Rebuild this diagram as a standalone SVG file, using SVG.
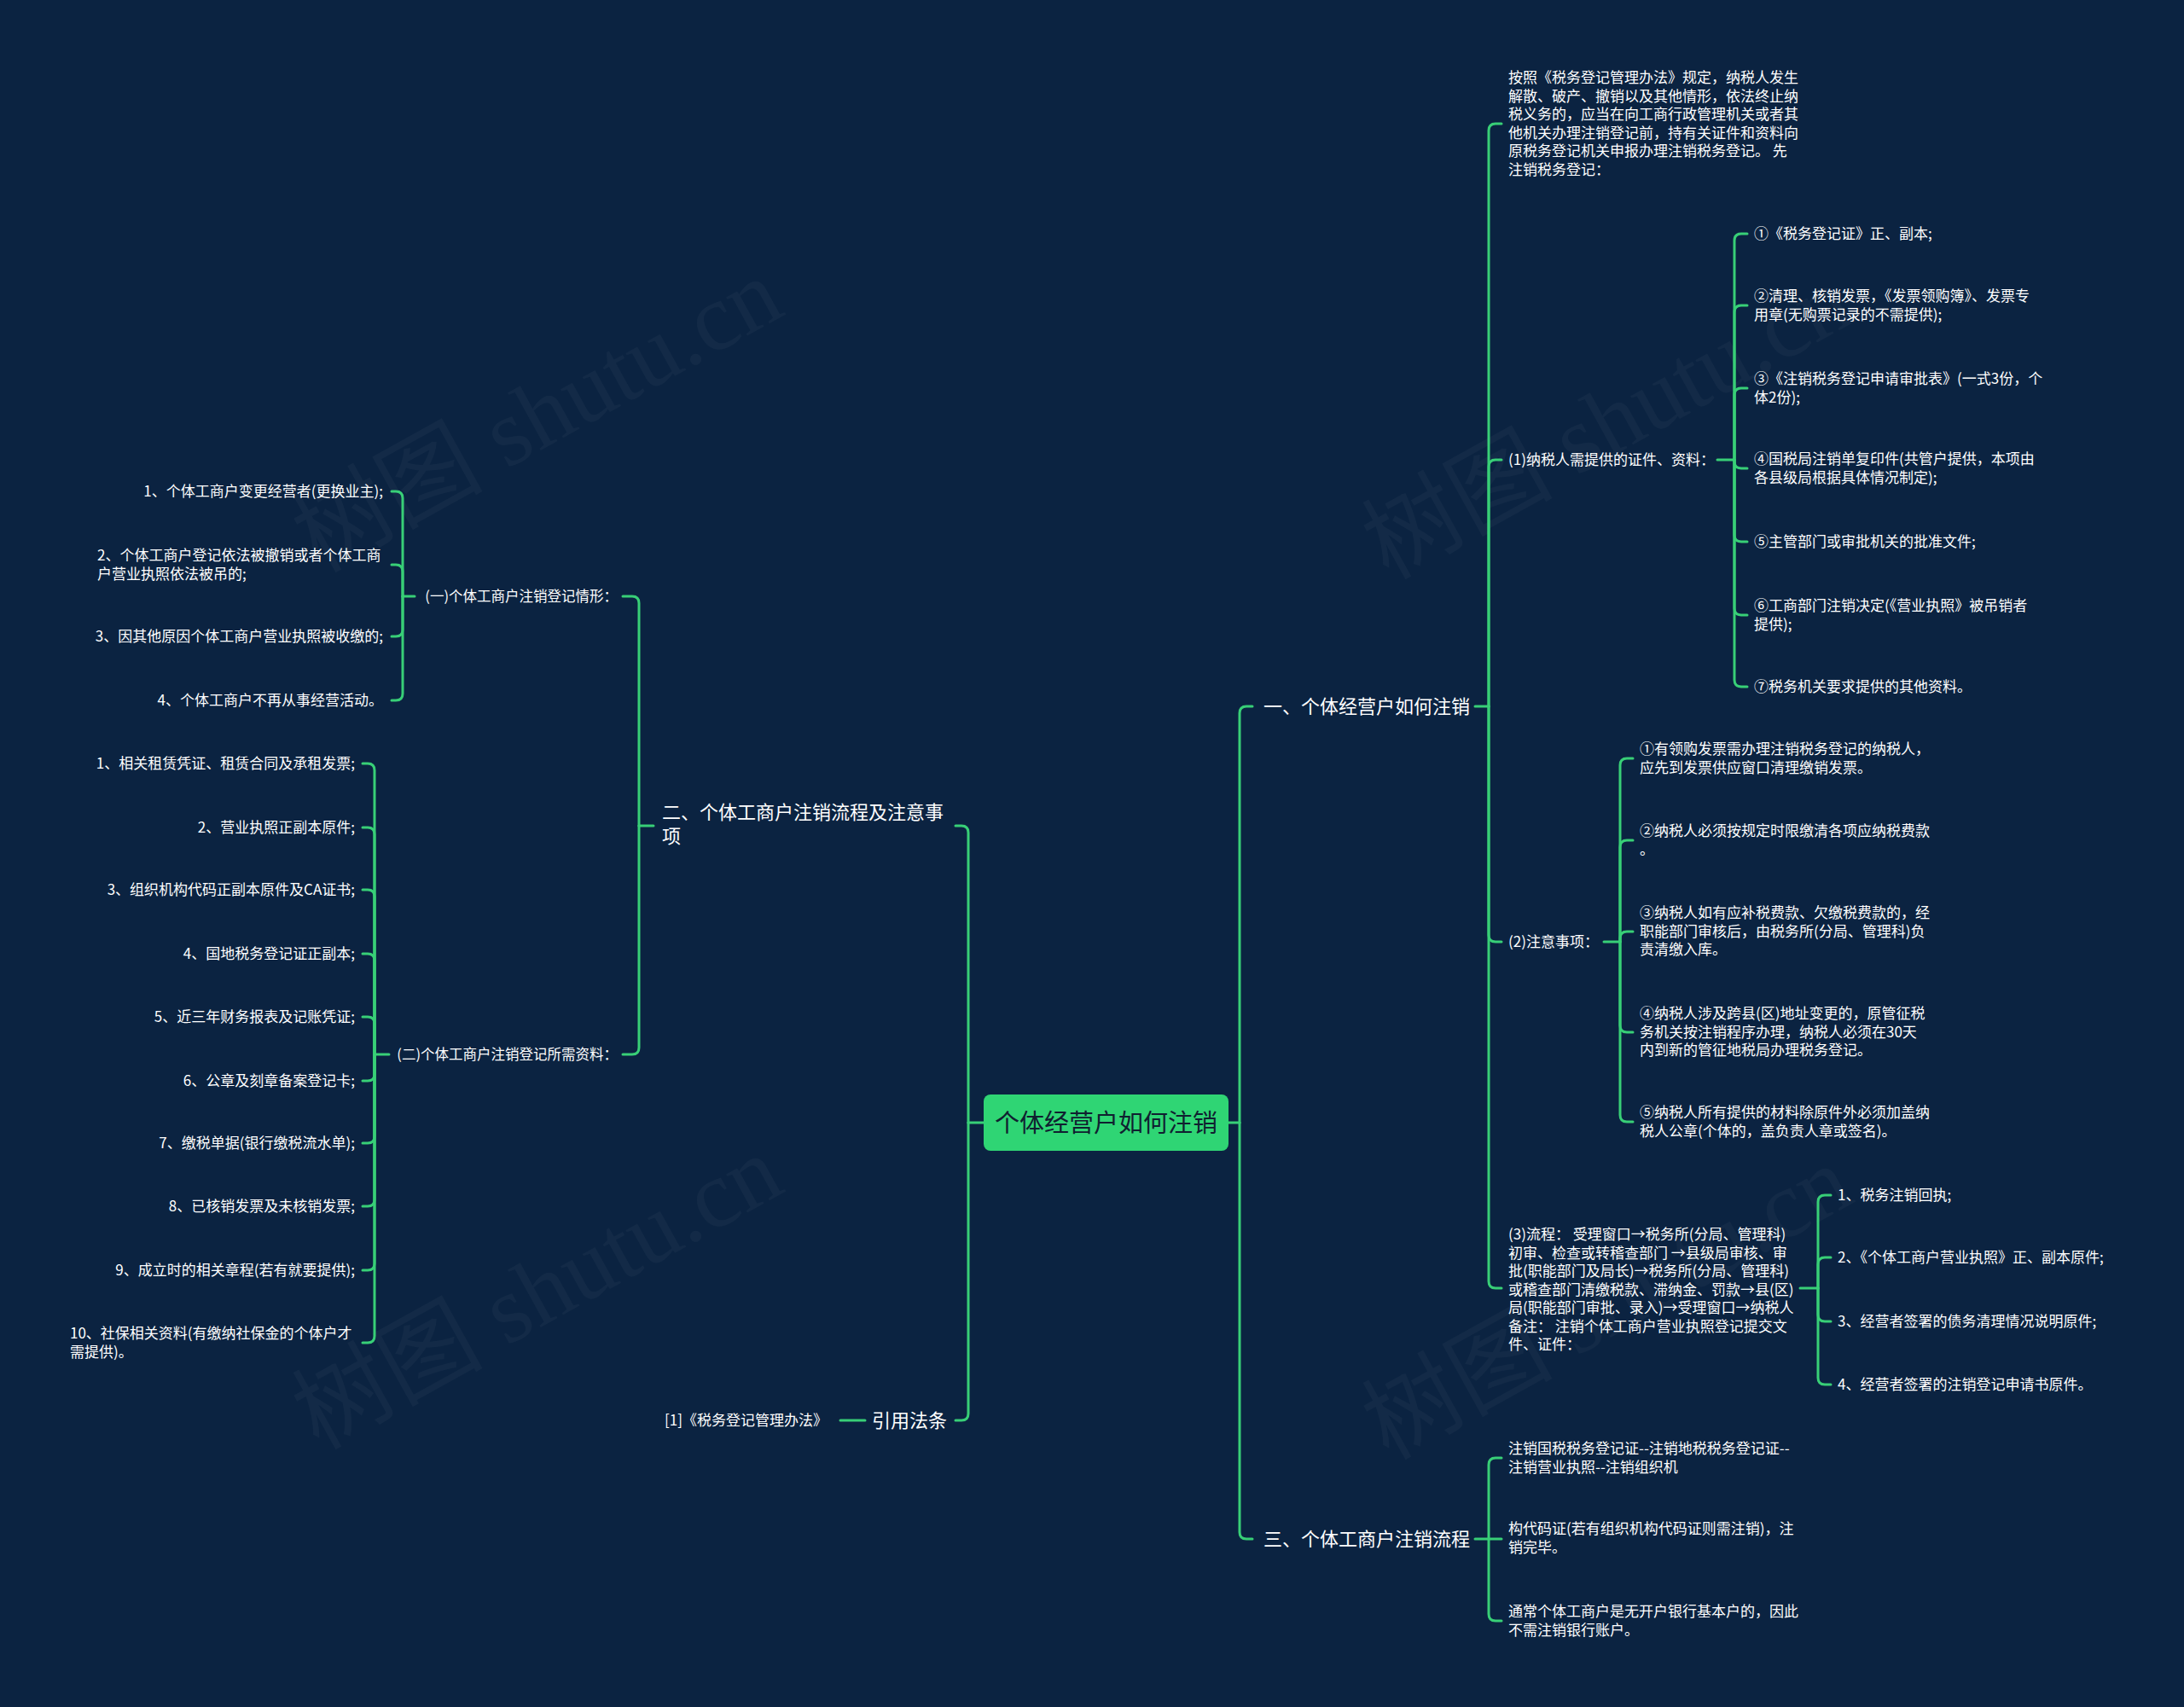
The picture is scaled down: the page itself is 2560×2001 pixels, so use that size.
<svg xmlns="http://www.w3.org/2000/svg" width="2560" height="2001" viewBox="0 0 2560 2001">
<style>
.edge{fill:none;stroke:#38cf77;stroke-width:3;stroke-linecap:round;stroke-linejoin:round}
.t{font-family:"Noto Sans CJK SC","Liberation Sans",sans-serif;fill:#ffffff}
.s17{font-size:17px}
.s165{font-size:16.5px}
.s22{font-size:22px}
.end{text-anchor:end}
.wm{font-family:"Liberation Serif","Noto Sans CJK SC",serif;font-size:112px;fill:#ffffff;fill-opacity:0.035}
</style>
<rect x="0" y="0" width="2560" height="2001" fill="#0b2341"/>
<g id="watermarks">
<text class="wm" transform="translate(648 520) rotate(-29)" text-anchor="middle">树图 shutu.cn</text>
<text class="wm" transform="translate(1902 528) rotate(-29)" text-anchor="middle">树图 shutu.cn</text>
<text class="wm" transform="translate(648 1548) rotate(-29)" text-anchor="middle">树图 shutu.cn</text>
<text class="wm" transform="translate(1902 1560) rotate(-29)" text-anchor="middle">树图 shutu.cn</text>
</g>
<g id="connectors">
<path class="edge" d="M1440 1316 H1453"/>
<path class="edge" d="M1453 1316 V836 Q1453 828 1461 828 H1468"/>
<path class="edge" d="M1453 1316 V1796 Q1453 1804 1461 1804 H1468"/>
<path class="edge" d="M1729 828 H1745"/>
<path class="edge" d="M1745 828 V153 Q1745 145 1753 145 H1760"/>
<path class="edge" d="M1745 828 V547 Q1745 539 1753 539 H1760"/>
<path class="edge" d="M1745 828 V1096 Q1745 1104 1753 1104 H1760"/>
<path class="edge" d="M1745 828 V1502 Q1745 1510 1753 1510 H1760"/>
<path class="edge" d="M2013 539 H2033"/>
<path class="edge" d="M2033 539 V282 Q2033 274 2041 274 H2048"/>
<path class="edge" d="M2033 539 V366 Q2033 358 2041 358 H2048"/>
<path class="edge" d="M2033 539 V463 Q2033 455 2041 455 H2048"/>
<path class="edge" d="M2033 539 V541 Q2033 549 2041 549 H2048"/>
<path class="edge" d="M2033 539 V627 Q2033 635 2041 635 H2048"/>
<path class="edge" d="M2033 539 V713 Q2033 721 2041 721 H2048"/>
<path class="edge" d="M2033 539 V797 Q2033 805 2041 805 H2048"/>
<path class="edge" d="M1880 1104 H1899"/>
<path class="edge" d="M1899 1104 V897 Q1899 889 1907 889 H1914"/>
<path class="edge" d="M1899 1104 V993 Q1899 985 1907 985 H1914"/>
<path class="edge" d="M1899 1104 V1100 Q1899 1092 1907 1092 H1914"/>
<path class="edge" d="M1899 1104 V1202 Q1899 1210 1907 1210 H1914"/>
<path class="edge" d="M1899 1104 V1307 Q1899 1315 1907 1315 H1914"/>
<path class="edge" d="M2110 1510 H2131"/>
<path class="edge" d="M2131 1510 V1409 Q2131 1401 2139 1401 H2146"/>
<path class="edge" d="M2131 1510 V1482 Q2131 1474 2139 1474 H2146"/>
<path class="edge" d="M2131 1510 V1541 Q2131 1549 2139 1549 H2146"/>
<path class="edge" d="M2131 1510 V1615 Q2131 1623 2139 1623 H2146"/>
<path class="edge" d="M1729 1804 H1745"/>
<path class="edge" d="M1745 1804 V1717 Q1745 1709 1753 1709 H1760"/>
<path class="edge" d="M1745 1804 H1760"/>
<path class="edge" d="M1745 1804 V1892 Q1745 1900 1753 1900 H1760"/>
<path class="edge" d="M1153 1316 H1135"/>
<path class="edge" d="M1135 1316 V976 Q1135 968 1127 968 H1120"/>
<path class="edge" d="M1135 1316 V1657 Q1135 1665 1127 1665 H1120"/>
<path class="edge" d="M1014 1665 H985"/>
<path class="edge" d="M766 968 H749"/>
<path class="edge" d="M749 968 V707 Q749 699 741 699 H730"/>
<path class="edge" d="M749 968 V1228 Q749 1236 741 1236 H730"/>
<path class="edge" d="M486 699 H472"/>
<path class="edge" d="M472 699 V584 Q472 576 464 576 H459"/>
<path class="edge" d="M472 699 V670 Q472 662 464 662 H459"/>
<path class="edge" d="M472 699 V738 Q472 746 464 746 H459"/>
<path class="edge" d="M472 699 V813 Q472 821 464 821 H459"/>
<path class="edge" d="M456 1236 H439"/>
<path class="edge" d="M439 1236 V903 Q439 895 431 895 H425"/>
<path class="edge" d="M439 1236 V978 Q439 970 431 970 H425"/>
<path class="edge" d="M439 1236 V1051 Q439 1043 431 1043 H425"/>
<path class="edge" d="M439 1236 V1126 Q439 1118 431 1118 H425"/>
<path class="edge" d="M439 1236 V1200 Q439 1192 431 1192 H425"/>
<path class="edge" d="M439 1236 V1259 Q439 1267 431 1267 H425"/>
<path class="edge" d="M439 1236 V1332 Q439 1340 431 1340 H425"/>
<path class="edge" d="M439 1236 V1406 Q439 1414 431 1414 H425"/>
<path class="edge" d="M439 1236 V1481 Q439 1489 431 1489 H425"/>
<path class="edge" d="M439 1236 V1566 Q439 1574 431 1574 H425"/>
</g>
<g id="root">
<rect x="1153" y="1283" width="287" height="66" rx="8" fill="#2fd574"/>
<text x="1296.5" y="1327" text-anchor="middle" font-family="Noto Sans CJK SC, sans-serif" font-size="29" fill="#102030">个体经营户如何注销</text>
</g>
<g id="n1"><text class="t s22" x="1481" y="836">一、个体经营户如何注销</text></g>
<g id="n1a"><text class="t s17"><tspan x="1768" y="97">按照《税务登记管理办法》规定，纳税人发生</tspan><tspan x="1768" y="119">解散、破产、撤销以及其他情形，依法终止纳</tspan><tspan x="1768" y="140">税义务的，应当在向工商行政管理机关或者其</tspan><tspan x="1768" y="162">他机关办理注销登记前，持有关证件和资料向</tspan><tspan x="1768" y="183">原税务登记机关申报办理注销税务登记。 先</tspan><tspan x="1768" y="205">注销税务登记：</tspan></text></g>
<g id="n1b"><text class="t s17" x="1768" y="545">(1)纳税人需提供的证件、资料：</text></g>
<g id="n1b1"><text class="t s17" x="2056" y="280">①《税务登记证》正、副本;</text></g>
<g id="n1b2"><text class="t s17"><tspan x="2056" y="353">②清理、核销发票，《发票领购簿》、发票专</tspan><tspan x="2056" y="375">用章(无购票记录的不需提供);</tspan></text></g>
<g id="n1b3"><text class="t s17"><tspan x="2056" y="450">③《注销税务登记申请审批表》(一式3份，个</tspan><tspan x="2056" y="472">体2份);</tspan></text></g>
<g id="n1b4"><text class="t s17"><tspan x="2056" y="544">④国税局注销单复印件(共管户提供，本项由</tspan><tspan x="2056" y="566">各县级局根据具体情况制定);</tspan></text></g>
<g id="n1b5"><text class="t s17" x="2056" y="641">⑤主管部门或审批机关的批准文件;</text></g>
<g id="n1b6"><text class="t s17"><tspan x="2056" y="716">⑥工商部门注销决定(《营业执照》被吊销者</tspan><tspan x="2056" y="738">提供);</tspan></text></g>
<g id="n1b7"><text class="t s17" x="2056" y="811">⑦税务机关要求提供的其他资料。</text></g>
<g id="n1c"><text class="t s17" x="1768" y="1110">(2)注意事项：</text></g>
<g id="n1c1"><text class="t s17"><tspan x="1922" y="884">①有领购发票需办理注销税务登记的纳税人，</tspan><tspan x="1922" y="906">应先到发票供应窗口清理缴销发票。</tspan></text></g>
<g id="n1c2"><text class="t s17"><tspan x="1922" y="980">②纳税人必须按规定时限缴清各项应纳税费款</tspan><tspan x="1922" y="1002">。</tspan></text></g>
<g id="n1c3"><text class="t s17"><tspan x="1922" y="1076">③纳税人如有应补税费款、欠缴税费款的，经</tspan><tspan x="1922" y="1098">职能部门审核后，由税务所(分局、管理科)负</tspan><tspan x="1922" y="1119">责清缴入库。</tspan></text></g>
<g id="n1c4"><text class="t s17"><tspan x="1922" y="1194">④纳税人涉及跨县(区)地址变更的，原管征税</tspan><tspan x="1922" y="1216">务机关按注销程序办理，纳税人必须在30天</tspan><tspan x="1922" y="1237">内到新的管征地税局办理税务登记。</tspan></text></g>
<g id="n1c5"><text class="t s17"><tspan x="1922" y="1310">⑤纳税人所有提供的材料除原件外必须加盖纳</tspan><tspan x="1922" y="1332">税人公章(个体的，盖负责人章或签名)。</tspan></text></g>
<g id="n1d"><text class="t s17"><tspan x="1768" y="1453">(3)流程： 受理窗口→税务所(分局、管理科)</tspan><tspan x="1768" y="1475">初审、检查或转稽查部门 →县级局审核、审</tspan><tspan x="1768" y="1496">批(职能部门及局长)→税务所(分局、管理科)</tspan><tspan x="1768" y="1518">或稽查部门清缴税款、滞纳金、罚款→县(区)</tspan><tspan x="1768" y="1539">局(职能部门审批、录入)→受理窗口→纳税人</tspan><tspan x="1768" y="1561">备注： 注销个体工商户营业执照登记提交文</tspan><tspan x="1768" y="1582">件、证件：</tspan></text></g>
<g id="n1d1"><text class="t s17" x="2154" y="1407">1、税务注销回执;</text></g>
<g id="n1d2"><text class="t s17" x="2154" y="1480">2、《个体工商户营业执照》正、副本原件;</text></g>
<g id="n1d3"><text class="t s17" x="2154" y="1555">3、经营者签署的债务清理情况说明原件;</text></g>
<g id="n1d4"><text class="t s17" x="2154" y="1629">4、经营者签署的注销登记申请书原件。</text></g>
<g id="n3"><text class="t s22" x="1481" y="1812">三、个体工商户注销流程</text></g>
<g id="n3a"><text class="t s17"><tspan x="1768" y="1704">注销国税税务登记证--注销地税税务登记证--</tspan><tspan x="1768" y="1726">注销营业执照--注销组织机</tspan></text></g>
<g id="n3b"><text class="t s17"><tspan x="1768" y="1798">构代码证(若有组织机构代码证则需注销)，注</tspan><tspan x="1768" y="1820">销完毕。</tspan></text></g>
<g id="n3c"><text class="t s17"><tspan x="1768" y="1895">通常个体工商户是无开户银行基本户的，因此</tspan><tspan x="1768" y="1917">不需注销银行账户。</tspan></text></g>
<g id="n2"><text class="t s22"><tspan x="776" y="960">二、个体工商户注销流程及注意事</tspan><tspan x="776" y="988">项</tspan></text></g>
<g id="n2a"><text class="t s165 end" x="724" y="705">(一)个体工商户注销登记情形：</text></g>
<g id="n2a1"><text class="t s17 end" x="449" y="582">1、个体工商户变更经营者(更换业主);</text></g>
<g id="n2a2"><text class="t s17"><tspan x="114" y="657">2、个体工商户登记依法被撤销或者个体工商</tspan><tspan x="114" y="679">户营业执照依法被吊的;</tspan></text></g>
<g id="n2a3"><text class="t s17 end" x="449" y="752">3、因其他原因个体工商户营业执照被收缴的;</text></g>
<g id="n2a4"><text class="t s17 end" x="449" y="827">4、个体工商户不再从事经营活动。</text></g>
<g id="n2b"><text class="t s165 end" x="724" y="1242">(二)个体工商户注销登记所需资料：</text></g>
<g id="n2b1"><text class="t s17 end" x="416" y="901">1、相关租赁凭证、租赁合同及承租发票;</text></g>
<g id="n2b2"><text class="t s17 end" x="416" y="976">2、营业执照正副本原件;</text></g>
<g id="n2b3"><text class="t s17 end" x="416" y="1049">3、组织机构代码正副本原件及CA证书;</text></g>
<g id="n2b4"><text class="t s17 end" x="416" y="1124">4、国地税务登记证正副本;</text></g>
<g id="n2b5"><text class="t s17 end" x="416" y="1198">5、近三年财务报表及记账凭证;</text></g>
<g id="n2b6"><text class="t s17 end" x="416" y="1273">6、公章及刻章备案登记卡;</text></g>
<g id="n2b7"><text class="t s17 end" x="416" y="1346">7、缴税单据(银行缴税流水单);</text></g>
<g id="n2b8"><text class="t s17 end" x="416" y="1420">8、已核销发票及未核销发票;</text></g>
<g id="n2b9"><text class="t s17 end" x="416" y="1495">9、成立时的相关章程(若有就要提供);</text></g>
<g id="n2b10"><text class="t s17"><tspan x="82" y="1569">10、社保相关资料(有缴纳社保金的个体户才</tspan><tspan x="82" y="1591">需提供)。</tspan></text></g>
<g id="n4"><text class="t s22 end" x="1110" y="1673">引用法条</text></g>
<g id="n4a"><text class="t s17 end" x="970" y="1671">[1]《税务登记管理办法》</text></g>
</svg>
